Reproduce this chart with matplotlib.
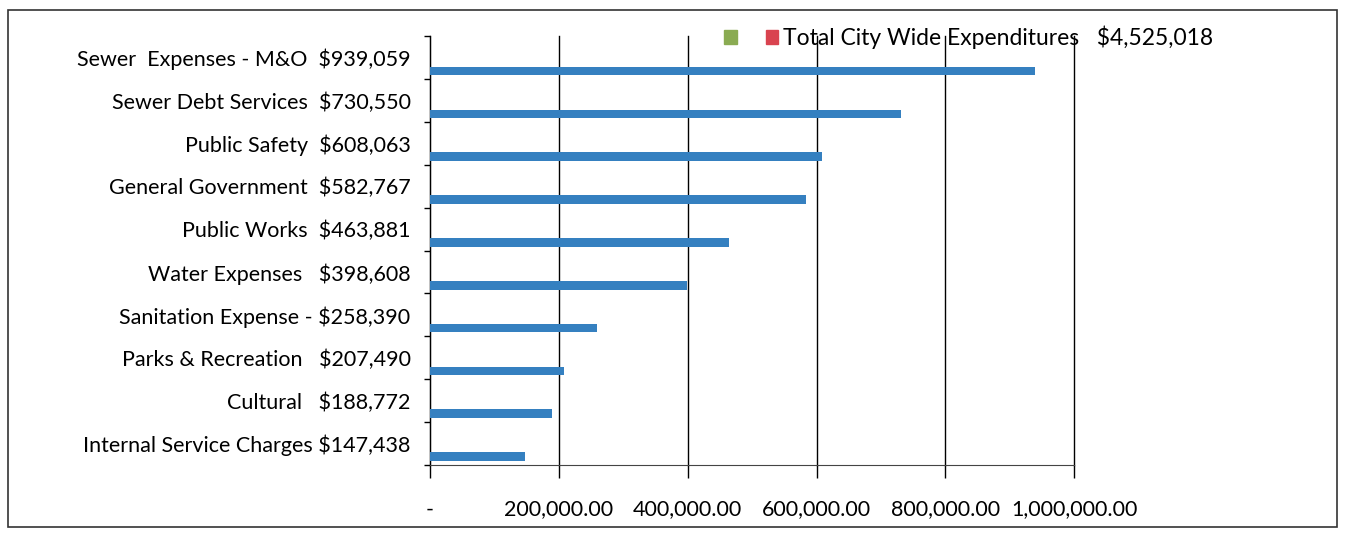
import numpy as np
import matplotlib.pyplot as plt
from matplotlib.patches import Patch, Rectangle

# expenditure categories, top to bottom as shown
categories = ["Sewer  Expenses - M&O ", "Sewer Debt Services ", "Public Safety ",
              "General Government ", "Public Works ", "Water Expenses  ",
              "Sanitation Expense -", "Parks & Recreation  ", "Cultural  ",
              "Internal Service Charges"]
amounts = [939059, 730550, 608063, 582767, 463881, 398608,
           258390, 207490, 188772, 147438]
total_label = "Total City Wide Expenditures"
total_amount = 4525018
x_ticks = [0, 200000, 400000, 600000, 800000, 1000000]

plt.rcParams['font.family'] = ['Lato', 'DejaVu Sans']

fig = plt.figure(figsize=(13.48, 5.33), dpi=100)
ax = fig.add_axes([0.319, 0.128, 0.478, 0.804])

n = len(categories)
ypos = np.arange(n)[::-1]  # first category on top
# bars sit at the lower part of each category slot
ax.barh(ypos - 0.31, amounts, height=0.2, color="#3580c0", zorder=3)

ax.set_xlim(0, 1000000)
ax.set_ylim(-0.5, n - 0.5)

ax.set_xticks(x_ticks)
ax.set_xticklabels(["-"] + [f"{v:,.2f}" for v in x_ticks[1:]], fontsize=15.5)
ax.tick_params(axis="x", length=9, width=1, direction="out", pad=16)
ax.xaxis.grid(True, color="black", linewidth=1)
for gl in ax.get_xgridlines():
    gl.set_clip_on(False)

ax.set_yticks(ypos)
ax.set_yticklabels([f"{c} ${a:,}" for c, a in zip(categories, amounts)], fontsize=15.5)
ax.tick_params(axis="y", length=0, pad=14)
ax.set_yticks(np.arange(-0.5, n, 1.0), minor=True)
ax.tick_params(axis="y", which="minor", length=4, width=1, direction="out")

for side in ["top", "right"]:
    ax.spines[side].set_visible(False)
ax.spines["left"].set_color("black")
ax.spines["bottom"].set_color("#444444")

handles = [Patch(color="#8aab52", label=" "),
           Patch(color="#d9434f", label=f"{total_label}   ${total_amount:,}")]
fig.legend(handles=handles, ncol=2, loc="upper left", bbox_to_anchor=(0.522, 0.99),
           frameon=False, fontsize=16.5, handlelength=0.55, handleheight=0.55,
           handletextpad=0.2, columnspacing=0.8)

# outer border of the chart
fig.add_artist(Rectangle((0.006, 0.011), 0.986, 0.97, transform=fig.transFigure,
                         fill=False, edgecolor="#333333", linewidth=1.2))

fig.savefig("out.png", dpi=100)
